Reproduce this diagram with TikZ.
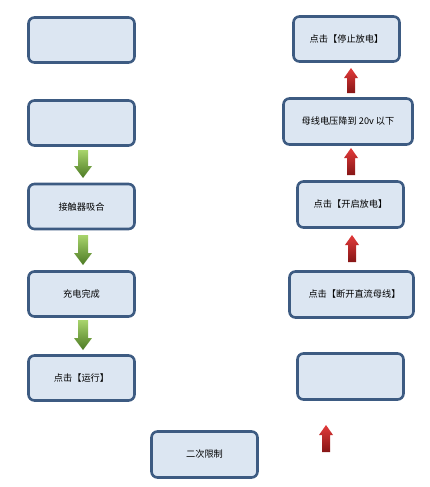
\documentclass[tikz,border=0pt]{standalone}
\usepackage{fontspec}
\setmainfont{Noto Sans CJK SC}
\definecolor{boxfill}{HTML}{DCE6F2}
\definecolor{boxline}{HTML}{3D5B82}
\definecolor{gTop}{HTML}{A8D46C}
\definecolor{gBot}{HTML}{4C7A24}
\definecolor{rTop}{HTML}{E23A3A}
\definecolor{rBot}{HTML}{861616}
\newcommand\gArrow[3]{%
  \shade[top color=gTop,bottom color=gBot]
    (#1-5,#2) -- (#1+5,#2) -- (#1+5,#3-12) -- (#1+9,#3-12) -- (#1,#3)
    -- (#1-9,#3-12) -- (#1-5,#3-12) -- cycle;}
\newcommand\rArrow[3]{%
  \shade[top color=rTop,bottom color=rBot]
    (#1-4,#3) -- (#1+4,#3) -- (#1+4,#2+10) -- (#1+7,#2+10) -- (#1,#2)
    -- (#1-7,#2+10) -- (#1-4,#2+10) -- cycle;}
\tikzset{
  box/.style={draw=boxline, line width=2.6pt, fill=boxfill, rounded corners=6pt,
    inner sep=0pt, font=\fontsize{9.2}{11}\selectfont, text=black},
}
\begin{document}
\begin{tikzpicture}[x=1pt,y=-1pt]
\useasboundingbox (0,0) rectangle (430,487);
% left column
\node[box, minimum width=106pt, minimum height=45pt] (L1) at (81.5,40) {};
\node[box, minimum width=106pt, minimum height=45pt] (L2) at (81.5,123) {};
\node[box, minimum width=106pt, minimum height=45pt] (L3) at (81.5,206.5) {接触器吸合};
\node[box, minimum width=106pt, minimum height=45pt] (L4) at (81.5,294) {充电完成};
\node[box, minimum width=106pt, minimum height=45pt] (L5) at (81.5,378) {点击【运行】};
\node[box, minimum width=106pt, minimum height=46pt] (B1) at (204.5,454.5) {二次限制};
% right column
\node[box, minimum width=106pt, minimum height=45pt] (R1) at (346.5,39) {点击【停止放电】};
\node[box, minimum width=129pt, minimum height=46pt] (R2) at (348,121.5) {母线电压降到 20v 以下};
\node[box, minimum width=106pt, minimum height=46pt] (R3) at (350.5,204.5) {点击【开启放电】};
\node[box, minimum width=124pt, minimum height=46pt] (R4) at (351.5,294.5) {\hspace*{6pt}点击【断开直流母线】};
\node[box, minimum width=106pt, minimum height=46pt] (R5) at (350.5,376.5) {};
% arrows
\gArrow{83}{150}{178}
\gArrow{83}{235}{265}
\gArrow{83}{320}{350}
\rArrow{351}{68}{93}
\rArrow{351}{148}{175}
\rArrow{352}{235}{262}
\rArrow{326}{425}{452}
\end{tikzpicture}
\end{document}
